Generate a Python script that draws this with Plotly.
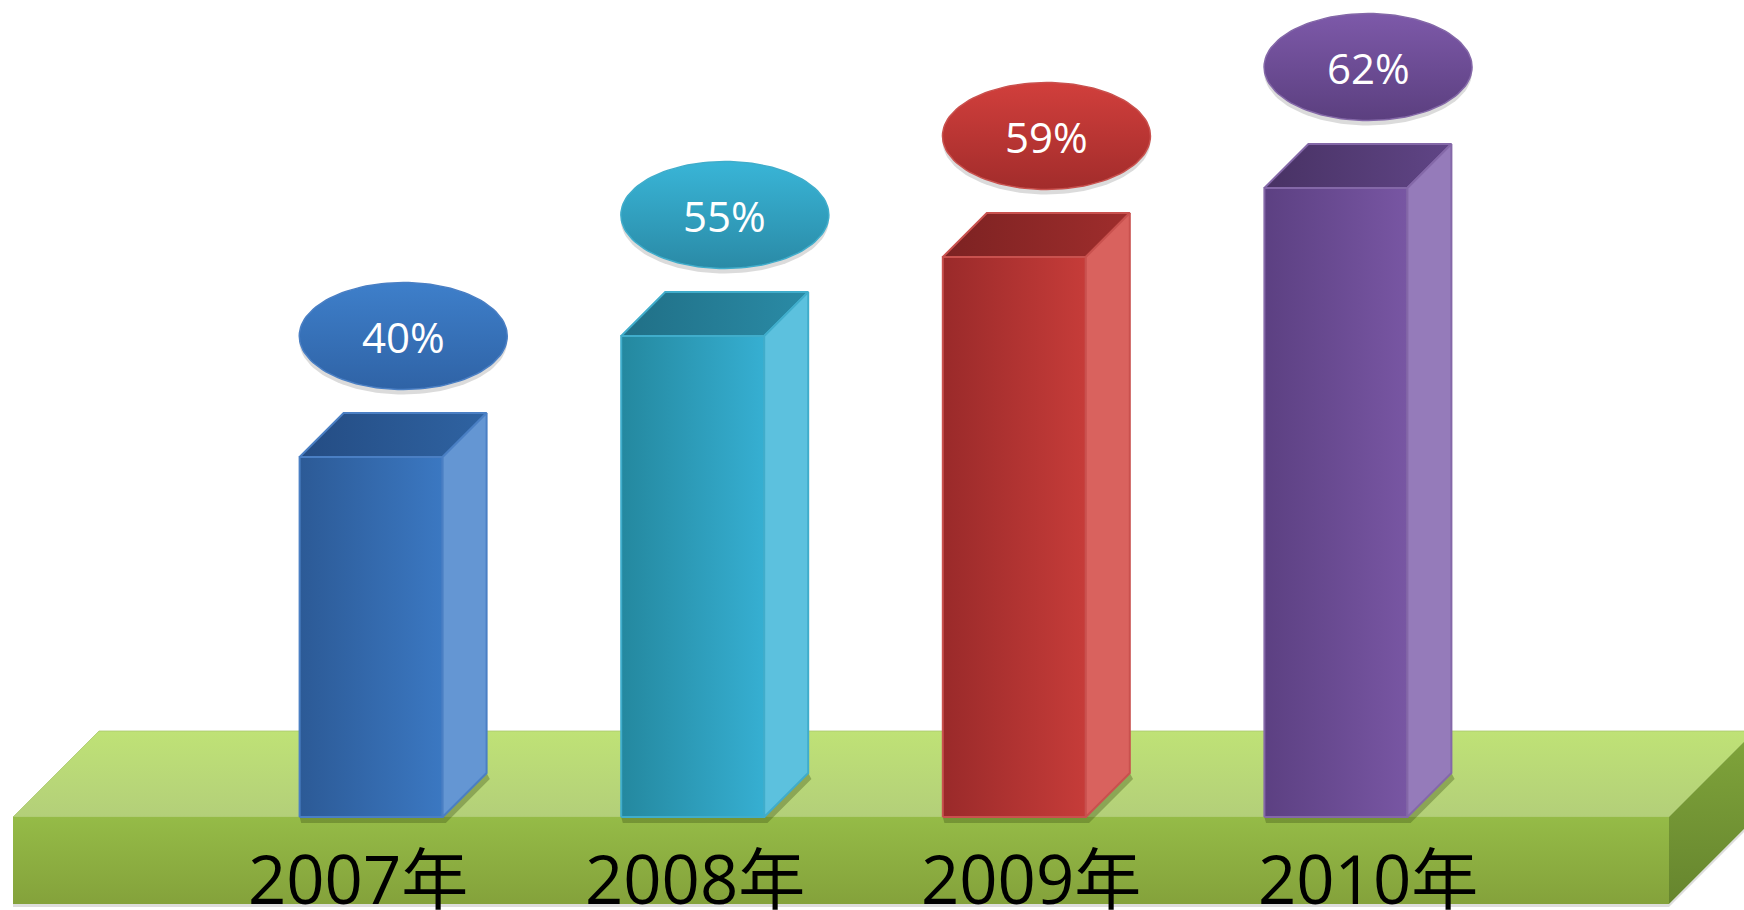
import numpy as np
import plotly.graph_objects as go

# ---------------- data ----------------
categories = ["2007年", "2008年", "2009年", "2010年"]
values = [40, 55, 59, 62]                     # percentages written in the ovals
drawn_heights = [36.0, 48.1, 56.0, 62.9]      # bar heights as drawn in the picture (axis units)
value_labels = [f"{v}%" for v in values]

# ---------------- styles ----------------
front_grad = [("#2c5a96", "#3b78c2"), ("#24889f", "#36afd2"),
              ("#9a2a2a", "#c63c39"), ("#5c4082", "#7856a3")]
top_grad = [("#244c83", "#2f63a2"), ("#206f86", "#2a8ba6"),
            ("#7c2222", "#9f2d2c"), ("#483264", "#604586")]
side_col = ["#6496d3", "#5cc1de", "#d9625e", "#957bba"]
edge_col = ["#4a7fc4", "#40adcb", "#c9514e", "#8468a8"]
oval_grad = [("#2f63a6", "#3e7fca"), ("#2a8aa6", "#39b5d7"),
             ("#a22c2b", "#d13f3c"), ("#5b3f7f", "#7d59a9")]

PX_PER_X = 321.6      # pixels per category step
PX_PER_Y = 10.0       # pixels per height unit
X0_PX = 371.1         # pixel of first category
BASE_PX = 817.0       # pixel row of bar base (from top)
W, H = 1744, 910

BAR_W = 143 / PX_PER_X
DX = 44 / PX_PER_X
DY = 4.4
OVAL_RX = 104 / PX_PER_X
OVAL_RY = 5.35
OVAL_DX = 0.10
OVAL_GAP = 12.1


def px_x(p):
    return (p - X0_PX) / PX_PER_X


def px_y(p):
    return (BASE_PX - p) / PX_PER_Y


fig = go.Figure()


def poly(xs, ys, grad=None, gtype="horizontal", color=None, line_color=None, lw=1.5, opacity=1.0):
    xs = list(xs) + [xs[0]]
    ys = list(ys) + [ys[0]]
    kw = dict(x=xs, y=ys, mode="lines", fill="toself", hoverinfo="skip",
              showlegend=False, opacity=opacity,
              line=dict(color=line_color or "rgba(0,0,0,0)", width=lw if line_color else 0))
    if grad is not None:
        kw["fillgradient"] = dict(type=gtype, colorscale=[[0, grad[0]], [1, grad[1]]])
    else:
        kw["fillcolor"] = color
    fig.add_trace(go.Scatter(**kw))


# ---------------- platform ----------------
pl_l, pl_r = px_x(13), px_x(1669)
pdx = 86 / PX_PER_X
pdy = 8.6
pbot = px_y(904)
# shadow under platform
poly([pl_l, pl_r, pl_r + pdx, pl_r + pdx, pl_r, pl_l],
     [pbot - 0.3, pbot - 0.3, pbot + pdy - 0.3, pbot + pdy, pbot, pbot],
     color="rgba(120,120,120,0.25)")
# top face
poly([pl_l, pl_r, pl_r + pdx, pl_l + pdx], [0, 0, pdy, pdy],
     grad=("#b3cf79", "#bfe276"), gtype="vertical", line_color="rgba(170,200,110,0.8)", lw=1)
# front face
poly([pl_l, pl_r, pl_r, pl_l], [pbot, pbot, 0, 0],
     grad=("#84a23b", "#95bb47"), gtype="vertical")
# right side face
poly([pl_r, pl_r + pdx, pl_r + pdx, pl_r], [pbot, pbot + pdy, pdy, 0],
     grad=("#66852e", "#80a53b"), gtype="vertical")

# ---------------- bars ----------------
for i, h in enumerate(drawn_heights):
    x0 = i - BAR_W / 2
    x1 = i + BAR_W / 2
    # soft shadow along the bottom edges
    poly([x0 + 0.005, x1 + 0.01, x1 + DX + 0.01, x1 + DX, x1, x0],
         [-0.6, -0.6, DY - 0.6, DY, 0, 0], color="rgba(60,80,20,0.35)")
    poly([x0, x1, x1, x0], [0, 0, h, h], grad=front_grad[i], line_color=edge_col[i], lw=2)
    poly([x0, x1, x1 + DX, x0 + DX], [h, h, h + DY, h + DY], grad=top_grad[i],
         line_color=edge_col[i], lw=2)
    poly([x1, x1 + DX, x1 + DX, x1], [0, DY, h + DY, h], color=side_col[i],
         line_color=edge_col[i], lw=2)

# ---------------- ovals ----------------
t = np.linspace(0, 2 * np.pi, 121)
for i, h in enumerate(drawn_heights):
    cx = i + OVAL_DX
    cy = h + OVAL_GAP
    # shadow
    poly(cx + OVAL_RX * np.cos(t), cy - 0.5 + OVAL_RY * np.sin(t),
         color="rgba(90,90,90,0.22)")
    poly(cx + OVAL_RX * np.cos(t), cy + OVAL_RY * np.sin(t), grad=oval_grad[i],
         gtype="vertical", line_color=edge_col[i], lw=1.5)
    fig.add_annotation(x=cx, y=cy, xref="x", yref="y", text=value_labels[i],
                       showarrow=False, xanchor="center", yanchor="middle",
                       font=dict(family="Open Sans, sans-serif", size=42, color="white"))

# ---------------- category labels ----------------
for i, c in enumerate(categories):
    fig.add_annotation(x=i, y=-6.1, xref="x2", yref="y", text=c, showarrow=False,
                       xanchor="center", yanchor="middle",
                       font=dict(family="Open Sans, Noto Sans CJK SC, sans-serif",
                                 size=67, color="black"))

LAB_X0, LAB_STEP = 358.0, 336.6
fig.update_layout(
    width=W, height=H, margin=dict(l=0, r=0, t=0, b=0),
    paper_bgcolor="white", plot_bgcolor="white",
    xaxis=dict(range=[px_x(0), px_x(W)], visible=False, fixedrange=True),
    xaxis2=dict(range=[-LAB_X0 / LAB_STEP, (W - LAB_X0) / LAB_STEP], overlaying="x",
                visible=False, fixedrange=True),
    yaxis=dict(range=[px_y(H), px_y(0)], visible=False, fixedrange=True),
    showlegend=False,
)
fig.add_trace(go.Scatter(x=[None], y=[None], xaxis="x2", yaxis="y", showlegend=False,
                         hoverinfo="skip"))

fig.write_html("out.html")
